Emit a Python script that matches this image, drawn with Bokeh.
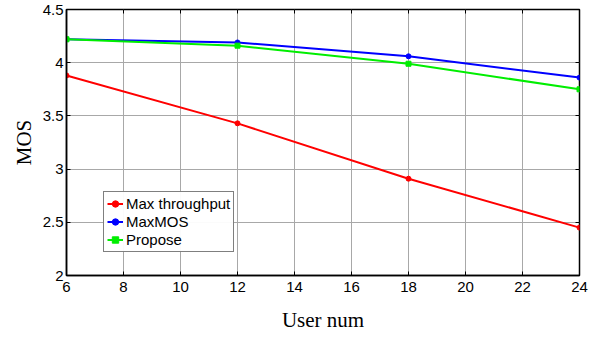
from bokeh.plotting import figure
from bokeh.embed import file_html
from bokeh.resources import INLINE
from bokeh.models import LinearAxis, Legend, LegendItem, FixedTicker, Range1d

users = [6, 12, 18, 24]
max_throughput = [3.88, 3.43, 2.91, 2.45]
max_mos = [4.22, 4.19, 4.06, 3.86]
propose = [4.22, 4.16, 3.99, 3.75]
x_ticks = [6, 8, 10, 12, 14, 16, 18, 20, 22, 24]
y_ticks = [2, 2.5, 3, 3.5, 4, 4.5]

p = figure(frame_width=513, frame_height=266, output_backend="svg", toolbar_location=None,
           x_range=Range1d(6, 24), y_range=Range1d(2, 4.5),
           min_border_left=66, min_border_right=20, min_border_top=9, min_border_bottom=50)
p.outline_line_color = "black"
p.outline_line_width = 1.5
p.background_fill_color = "white"
p.border_fill_color = "white"

for ax in (p.xaxis[0], p.yaxis[0]):
    ax.major_tick_in = 4
    ax.major_tick_out = 0
    ax.minor_tick_line_color = None
    ax.axis_line_color = "black"
    ax.axis_line_width = 1.5
    ax.major_label_text_font = "Liberation Sans"
    ax.major_label_text_font_size = "15px"
    ax.major_label_text_color = "black"
    ax.axis_label_text_font = "Liberation Serif"
    ax.axis_label_text_font_style = "normal"
    ax.axis_label_text_font_size = "21px"
    ax.axis_label_text_color = "black"

p.xaxis[0].ticker = FixedTicker(ticks=x_ticks)
p.yaxis[0].ticker = FixedTicker(ticks=y_ticks)
p.xaxis[0].axis_label = "User num"
p.yaxis[0].axis_label = "MOS"
p.xaxis[0].major_label_standoff = 6
p.yaxis[0].major_label_standoff = 3
p.xaxis[0].axis_label_standoff = 13
p.yaxis[0].axis_label_standoff = 4

top = LinearAxis(ticker=FixedTicker(ticks=x_ticks),
                 major_label_overrides={t: "" for t in x_ticks},
                 major_tick_in=4, major_tick_out=0, minor_tick_line_color=None,
                 axis_line_color=None, major_label_standoff=0)
right = LinearAxis(ticker=FixedTicker(ticks=y_ticks),
                   major_label_overrides={t: "" for t in y_ticks},
                   major_tick_in=4, major_tick_out=0, minor_tick_line_color=None,
                   axis_line_color=None, major_label_standoff=0)
p.add_layout(top, "above")
p.add_layout(right, "right")

p.xgrid.ticker = FixedTicker(ticks=x_ticks)
p.ygrid.ticker = FixedTicker(ticks=y_ticks)
p.grid.grid_line_color = "#a8a8a8"
p.grid.grid_line_width = 1

r1 = p.line(users, max_throughput, line_color="red", line_width=2)
m1 = p.scatter(users, max_throughput, marker="circle", size=5, color="red")
r2 = p.line(users, max_mos, line_color="blue", line_width=2)
m2 = p.scatter(users, max_mos, marker="circle", size=5, color="blue")
r3 = p.line(users, propose, line_color="#00ee00", line_width=2)
m3 = p.scatter(users, propose, marker="square", size=5, color="#00ee00")

legend = Legend(items=[
    LegendItem(label="Max throughput", renderers=[r1, m1]),
    LegendItem(label="MaxMOS", renderers=[r2, m2]),
    LegendItem(label="Propose", renderers=[r3, m3]),
], location=(37, 23))
legend.border_line_color = "black"
legend.border_line_width = 1.5
legend.label_text_font = "Liberation Sans"
legend.label_text_font_size = "15px"
legend.label_text_color = "black"
legend.glyph_width = 16
legend.glyph_height = 17
legend.label_height = 17
legend.spacing = 1
legend.padding = 3
legend.margin = 0
legend.label_standoff = 3
p.add_layout(legend, "center")

open("out.html", "w").write(file_html(p, INLINE))
